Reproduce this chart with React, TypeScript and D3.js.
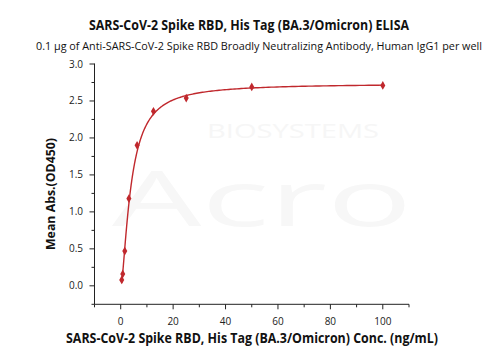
import React from "react";
import * as d3 from "d3";

const concentrations = [0.39, 0.78, 1.56, 3.125, 6.25, 12.5, 25, 50, 100];
const meanAbs = [0.08, 0.16, 0.47, 1.18, 1.9, 2.36, 2.54, 2.69, 2.71];
// 4PL fit parameters (bottom, hill, EC50, top)
const fitBottom = -0.05;
const fitHill = 1.5;
const fitEC50 = 3.9;
const fitTop = 2.735;
const xTicks = [0, 20, 40, 60, 80, 100];
const yTicks = [0, 0.5, 1, 1.5, 2, 2.5, 3];

const W = 500, H = 357;
const left = 94.5, right = 409, top = 63.5, bottom = 304.3;
const RED = "#c0282d";
const FONT = "'Open Sans', 'Noto Sans', sans-serif";

export default function App() {
  const x = d3.scaleLinear().domain([-10, 110]).range([left, right]);
  const y = d3.scaleLinear().domain([-0.25, 3.0]).range([bottom, top + 0.5]);
  const fit = (c: number) => fitTop + (fitBottom - fitTop) / (1 + Math.pow(c / fitEC50, fitHill));
  const curvePts: [number, number][] = [];
  const lo = Math.log(concentrations[0]), hi = Math.log(100);
  for (let i = 0; i <= 300; i++) {
    const c = Math.exp(lo + ((hi - lo) * i) / 300);
    curvePts.push([c, fit(c)]);
  }
  const line = d3.line<[number, number]>().x(d => x(d[0])).y(d => y(d[1]));
  const xMinor = d3.range(-10, 111, 10).filter(v => !xTicks.includes(v));
  const yMinor = d3.range(-0.25, 3.01, 0.5);
  const diamond = d3.symbol().type(d3.symbolDiamond).size(22)();
  return (
    <svg width={W} height={H} style={{ display: "block", position: "absolute", left: 0, top: 0 }} fontFamily={FONT}>
      <rect width={W} height={H} fill="#fff" />
      {/* watermark */}
      <text x={293} y={138} fontSize={20} fill="#f6f6f6" textAnchor="middle" textLength={172} lengthAdjust="spacingAndGlyphs">BIOSYSTEMS</text>
      <text x={262} y={226} fontSize={76} fill="#f7f7f7" textAnchor="middle" textLength={300} lengthAdjust="spacingAndGlyphs">Acro</text>
      <text x={249} y={30} fontSize={13.5} fontWeight="bold" textAnchor="middle" fill="#111" textLength={320} lengthAdjust="spacingAndGlyphs">SARS-CoV-2 Spike RBD, His Tag (BA.3/Omicron) ELISA</text>
      <text x={259} y={50} fontSize={11} textAnchor="middle" fill="#111" textLength={446} lengthAdjust="spacingAndGlyphs">0.1 μg of Anti-SARS-CoV-2 Spike RBD Broadly Neutralizing Antibody, Human IgG1 per well</text>
      {/* axes */}
      <line x1={left} x2={left} y1={top} y2={bottom} stroke="#222" strokeWidth={1} />
      <line x1={left} x2={right} y1={bottom} y2={bottom} stroke="#222" strokeWidth={1} />
      {yTicks.map(t => (
        <g key={"y" + t}>
          <line x1={left - 5} x2={left} y1={y(t)} y2={y(t)} stroke="#222" />
          <text x={83} y={y(t) + 3.5} fontSize={10} textAnchor="end" fill="#222">{t.toFixed(1)}</text>
        </g>
      ))}
      {yMinor.map(t => (
        <line key={"ym" + t} x1={left - 3} x2={left} y1={y(t)} y2={y(t)} stroke="#222" />
      ))}
      {xTicks.map(t => (
        <g key={"x" + t}>
          <line x1={x(t)} x2={x(t)} y1={bottom} y2={bottom + 5} stroke="#222" />
          <text x={x(t)} y={325} fontSize={10} textAnchor="middle" fill="#222">{t}</text>
        </g>
      ))}
      {xMinor.map(t => (
        <line key={"xm" + t} x1={x(t)} x2={x(t)} y1={bottom} y2={bottom + 3} stroke="#222" />
      ))}
      <text transform={`translate(54.5,194) rotate(-90)`} fontSize={13} fontWeight="bold" textAnchor="middle" fill="#111" textLength={112} lengthAdjust="spacingAndGlyphs">Mean Abs.(OD450)</text>
      <text x={252} y={343} fontSize={13.5} fontWeight="bold" textAnchor="middle" fill="#111" textLength={372} lengthAdjust="spacingAndGlyphs">SARS-CoV-2 Spike RBD, His Tag (BA.3/Omicron) Conc. (ng/mL)</text>
      <path d={line(curvePts) || ""} fill="none" stroke={RED} strokeWidth={1.4} />
      {concentrations.map((c, i) => (
        <path key={"p" + i} d={diamond || ""} transform={`translate(${x(c)},${y(meanAbs[i])})`} fill={RED} />
      ))}
    </svg>
  );
}
